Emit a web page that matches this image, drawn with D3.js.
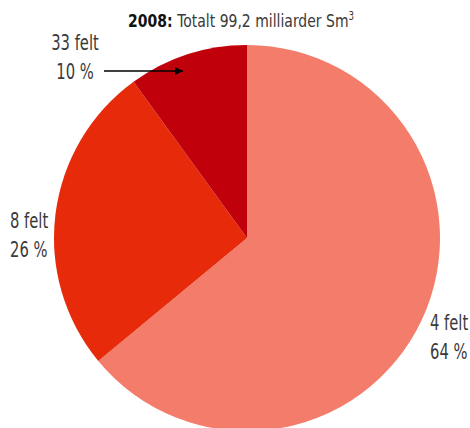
<!DOCTYPE html>
<html><head><meta charset="utf-8">
<script src="https://cdn.jsdelivr.net/npm/d3@7"></script>
<style>body{margin:0;background:#fff}svg{display:block}text{font-family:"DejaVu Sans Condensed","Liberation Sans Narrow",sans-serif;fill:#3a3a3a}</style>
</head><body><svg id="c" width="470" height="428"></svg>
<script>
const categories = ["4 felt", "8 felt", "33 felt"];
const shares = [64, 26, 10];
const colors = ["#F47C6A", "#E62A0A", "#C0000B"];
const title = "Totalt 99,2 milliarder Sm";
const year = "2008:";

const svg = d3.select("#c");
const cx = 247, cy = 238, r = 193;
const pie = d3.pie().sort(null).value(d => d)(shares);
const arc = d3.arc().innerRadius(0).outerRadius(r);
const g = svg.append("g").attr("transform", `translate(${cx},${cy})`);
g.selectAll("path").data(pie).enter().append("path")
  .attr("d", arc).attr("fill", (d, i) => colors[i]);

const t = svg.append("text").attr("transform", "translate(128,27) scale(0.84,1)").attr("font-size", 18.5);
t.append("tspan").attr("font-weight", "bold").style("fill", "#111").text(year + " ");
t.append("tspan").text(title);
t.append("tspan").attr("font-size", 11.5).attr("dy", -7).text("3");

const labels = [
  {x: 430, y: 330, anchor: "start"},
  {x: 10, y: 228, anchor: "start"},
  {x: 75, y: 50, anchor: "middle"}
];
labels.forEach((p, i) => {
  const tx = svg.append("text").attr("font-size", 20.5).attr("text-anchor", p.anchor)
    .attr("transform", `translate(${p.x},${p.y}) scale(0.8,1)`);
  tx.append("tspan").attr("x", 0).attr("y", 0).text(categories[i]);
  tx.append("tspan").attr("x", 0).attr("y", 29).text(shares[i] + " %");
});

svg.append("defs").append("marker").attr("id", "ah").attr("viewBox", "0 0 10 10")
  .attr("refX", 10).attr("refY", 5).attr("markerWidth", 17).attr("markerHeight", 8)
  .attr("markerUnits", "userSpaceOnUse").attr("orient", "auto")
  .append("path").attr("d", "M0,0L10,5L0,10z").attr("fill", "#000");
svg.append("line").attr("x1", 104).attr("y1", 71).attr("x2", 183).attr("y2", 71)
  .attr("stroke", "#000").attr("stroke-width", 1.6).attr("marker-end", "url(#ah)");
</script></body></html>
